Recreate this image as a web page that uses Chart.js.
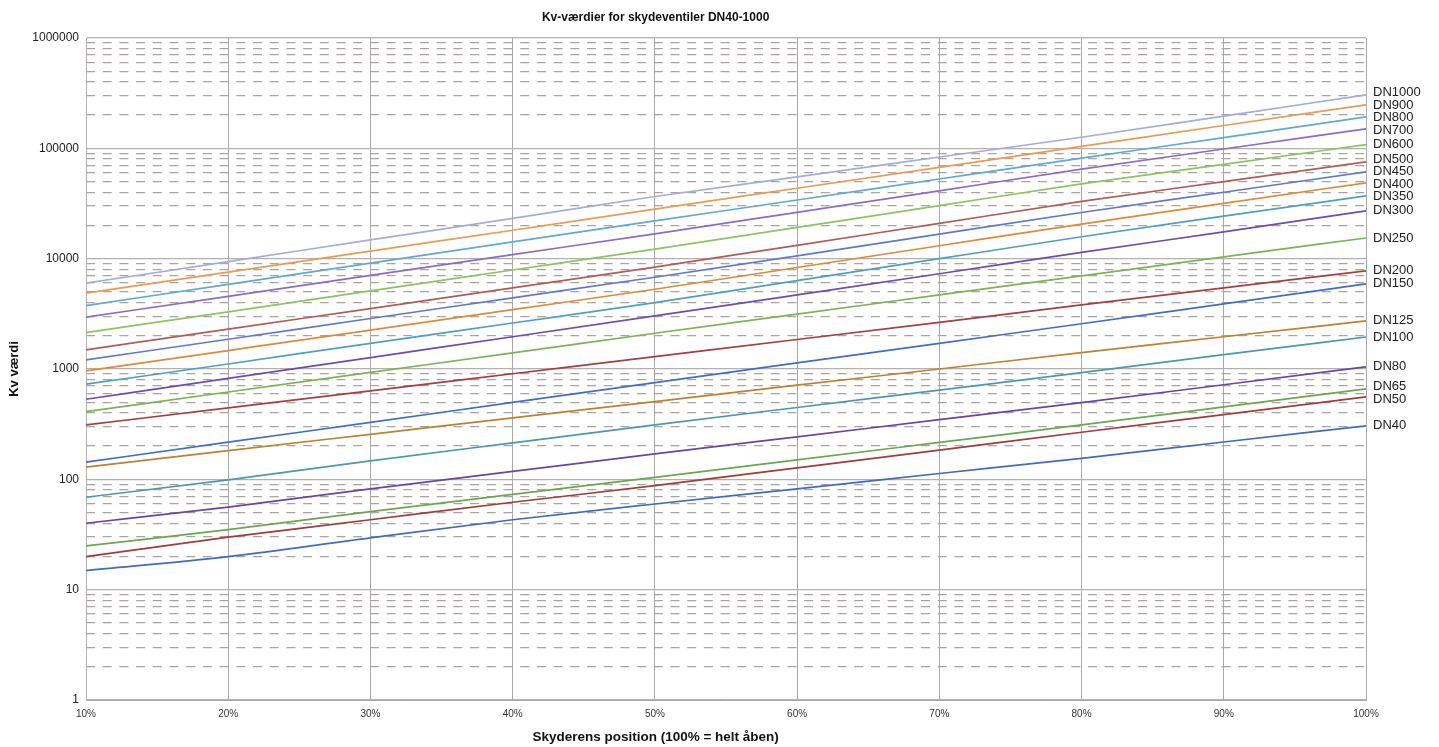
<!DOCTYPE html>
<html>
<head>
<meta charset="utf-8">
<script src="https://cdn.jsdelivr.net/npm/chart.js@4.4.1/dist/chart.umd.min.js"></script>
<style>
  body { margin: 0; background: #fff; }
  #wrap { width: 1439px; height: 747px; }
</style>
</head>
<body>
<div id="wrap"><canvas id="myChart"></canvas></div>
<script>
const positions = ['10%', '20%', '30%', '40%', '50%', '60%', '70%', '80%', '90%', '100%'];
const sizes = ['DN40', 'DN50', 'DN65', 'DN80', 'DN100', 'DN125', 'DN150', 'DN200', 'DN250', 'DN300',
    'DN350', 'DN400', 'DN450', 'DN500', 'DN600', 'DN700', 'DN800', 'DN900', 'DN1000'];
const yTicks = [1, 10, 100, 1000, 10000, 100000, 1000000];
const minorSteps = [2, 3, 4, 5, 6, 7, 8, 9];

// Kv values, one array per valve size
const dn40 = [14.9, 19.9, 29.5, 43, 59.8, 82, 113, 155, 218, 305];
const dn50 = [19.9, 29.9, 43, 62, 87.7, 127, 184, 267, 386, 558];
const dn65 = [24.9, 35, 51, 73, 104, 150, 216, 311, 453, 660];
const dn80 = [40, 56, 82, 118, 170, 243, 347, 496, 720, 1045];
const dn100 = [68.8, 99, 147, 214, 311, 448, 644, 927, 1350, 1950];
const dn125 = [129, 182, 256, 360, 507, 713, 1000, 1410, 1960, 2730];
const dn150 = [143, 217, 328, 498, 753, 1135, 1710, 2570, 3900, 5910];
const dn200 = [311, 445, 634, 906, 1295, 1850, 2650, 3810, 5430, 7750];
const dn250 = [411, 619, 931, 1400, 2110, 3140, 4690, 6980, 10400, 15400];
const dn300 = [532, 822, 1270, 1960, 3030, 4700, 7300, 11400, 17500, 27100];
const dn350 = [728, 1110, 1710, 2610, 4000, 6320, 10000, 15800, 24300, 37100];
const dn400 = [961, 1470, 2250, 3450, 5280, 8320, 13100, 20600, 31700, 48700];
const dn450 = [1210, 1860, 2870, 4410, 6790, 10600, 16700, 26200, 40000, 61200];
const dn500 = [1490, 2300, 3530, 5440, 8380, 13200, 20900, 33000, 49900, 75500];
const dn600 = [2140, 3300, 5100, 7890, 12200, 19200, 30200, 47700, 71600, 108000];
const dn700 = [2950, 4560, 7050, 10900, 16800, 26300, 41200, 64700, 98600, 150000];
const dn800 = [3760, 5850, 9100, 14200, 22000, 34000, 52700, 81500, 125000, 193000];
const dn900 = [4870, 7550, 11700, 18100, 28100, 43500, 67300, 104000, 161000, 248000];
const dn1000 = [6000, 9400, 14800, 23200, 36600, 55200, 83400, 126000, 196000, 305000];

const series = [dn40, dn50, dn65, dn80, dn100, dn125, dn150, dn200, dn250, dn300,
    dn350, dn400, dn450, dn500, dn600, dn700, dn800, dn900, dn1000];

const colors = ['#3e6cc4', '#a33b3b', '#6aa84f', '#6a45a8', '#4a98b8', '#c0802e',
    '#3f6fc8', '#a83e3e', '#7bb552', '#6e4cb0', '#4da0c4', '#e08a36',
    '#6078d0', '#b55a5a', '#8cc460', '#8c6cc8', '#5eaad4', '#ec9a52', '#a4acdc'];

const sans = '"Liberation Sans", Arial, sans-serif';
const narrow = '"Liberation Sans Narrow", "Arial Narrow", "Liberation Sans", Arial, sans-serif';

let minorTicks = [];
yTicks.slice(0, -1).forEach((d) => {
    minorSteps.forEach((s) => minorTicks.push({ value: s * d }));
});

// titles and the DN labels at the right end of each line
const annotate = {
    id: 'annotate',
    afterDatasetsDraw(chart) {
        const ctx = chart.ctx;
        const area = chart.chartArea;
        let items = [];
        chart.data.datasets.forEach((ds, i) => {
            const meta = chart.getDatasetMeta(i);
            const pt = meta.data[meta.data.length - 1];
            items.push({ text: ds.label, y: pt.y });
        });
        items.sort((a, b) => a.y - b.y);
        for (let k = 0; k < 20; k++) {
            for (let i = 1; i < items.length; i++) {
                const gap = items[i].y - items[i - 1].y;
                if (gap < 12.5) {
                    const d = (12.5 - gap) / 2;
                    items[i - 1].y -= d;
                    items[i].y += d;
                }
            }
        }
        ctx.save();
        ctx.font = '13px ' + sans;
        ctx.fillStyle = '#222';
        ctx.textBaseline = 'middle';
        ctx.textAlign = 'left';
        items.forEach((it) => ctx.fillText(it.text, area.right + 7, it.y));
        ctx.restore();
    },
    afterDraw(chart) {
        const ctx = chart.ctx;
        const area = chart.chartArea;
        const cx = area.left + 0.445 * (area.right - area.left);
        ctx.save();
        ctx.fillStyle = '#111';
        ctx.textAlign = 'center';
        ctx.textBaseline = 'middle';
        ctx.font = 'bold 12px ' + narrow;
        ctx.fillText('Kv-værdier for skydeventiler DN40-1000', cx, 18);
        ctx.font = 'bold 13.5px ' + narrow;
        ctx.fillText('Skyderens position (100% = helt åben)', cx, 737);
        ctx.restore();
    }
};

function createChart() {
    const ctx = document.getElementById('myChart').getContext('2d');
    const config = {
        type: 'line',
        data: {
            labels: positions,
            datasets: series.map((values, i) => ({
                label: sizes[i],
                data: values,
                borderColor: colors[i],
                backgroundColor: colors[i],
                borderWidth: 1.7,
                pointRadius: 0,
                cubicInterpolationMode: 'monotone',
                yAxisID: 'y'
            }))
        },
        options: {
            responsive: true,
            maintainAspectRatio: false,
            animation: false,
            layout: { padding: { top: 38, right: 73, left: 0, bottom: 0 } },
            scales: {
                x: {
                    type: 'category',
                    offset: false,
                    grid: { color: '#a8a8ae', lineWidth: 1, drawTicks: false },
                    border: { color: '#a8a8ae' },
                    ticks: {
                        padding: 8,
                        maxRotation: 0,
                        autoSkip: false,
                        color: '#333',
                        font: { family: narrow, size: 10 }
                    },
                    afterFit: (scale) => { scale.height = 47; }
                },
                y: {
                    type: 'logarithmic',
                    position: 'left',
                    min: 1,
                    max: 1000000,
                    afterBuildTicks: (scale) => {
                        scale.ticks = yTicks.map((v) => ({ value: v }));
                    },
                    grid: { color: '#b4b0b0', lineWidth: 1.2, drawTicks: false },
                    border: { color: '#b4b0b0' },
                    ticks: {
                        padding: 7,
                        color: '#222',
                        font: { family: sans, size: 12 },
                        callback: (v) => String(v)
                    },
                    title: {
                        display: true,
                        text: 'Kv værdi',
                        color: '#111',
                        font: { family: narrow, size: 13, weight: 'bold' },
                        padding: { top: 7, bottom: 4 }
                    },
                    afterFit: (scale) => { scale.width = 86; }
                },
                yMinor: {
                    type: 'logarithmic',
                    position: 'left',
                    min: 1,
                    max: 1000000,
                    afterBuildTicks: (scale) => { scale.ticks = minorTicks.slice(); },
                    grid: { color: '#aaa3a0', lineWidth: 1.3, drawTicks: false },
                    border: { display: false, dash: [9, 7.7] },
                    ticks: { display: false },
                    afterFit: (scale) => { scale.width = 0; }
                }
            },
            plugins: {
                legend: { display: false },
                title: { display: false },
                tooltip: { enabled: false }
            }
        },
        plugins: [annotate]
    };
    new Chart(ctx, config);
}

createChart();
</script>
</body>
</html>
